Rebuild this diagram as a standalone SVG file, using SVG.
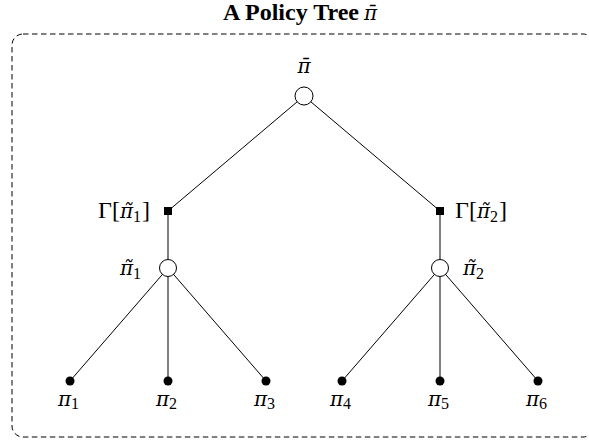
<svg xmlns="http://www.w3.org/2000/svg" width="589" height="442" viewBox="0 0 589 442">
<style>
.t{font-family:"Liberation Serif","DejaVu Serif",serif;font-size:24px;fill:#000}
.d{font-family:"DejaVu Serif",serif;font-size:20px;font-style:italic}
.s{font-size:16px}
.a{text-anchor:middle}
.e{stroke:#000;stroke-width:1;fill:none}
.oc{fill:#fff;stroke:#000;stroke-width:1}
</style>
<rect x="12" y="34" width="582" height="403" rx="11" fill="none" stroke="#000" stroke-width="1" stroke-dasharray="5.5,3.5"/>
<g id="title">
<text class="t" x="359" y="20" text-anchor="end" font-weight="bold" font-size="21">A Policy Tree</text>
<text class="t d" x="364" y="20" font-size="18">π̄</text>
</g>
<g id="edges">
<line class="e" x1="304" y1="96" x2="168" y2="211"/>
<line class="e" x1="304" y1="96" x2="440" y2="211"/>
<line class="e" x1="168" y1="211" x2="168" y2="268"/>
<line class="e" x1="440" y1="211" x2="440" y2="268"/>
<line class="e" x1="168" y1="268" x2="70" y2="381"/>
<line class="e" x1="168" y1="268" x2="168" y2="381"/>
<line class="e" x1="168" y1="268" x2="266" y2="381"/>
<line class="e" x1="440" y1="268" x2="342" y2="381"/>
<line class="e" x1="440" y1="268" x2="440" y2="381"/>
<line class="e" x1="440" y1="268" x2="538" y2="381"/>
</g>
<g id="root"><circle class="oc" cx="304" cy="96" r="9"/><text class="t d a" x="304" y="73">π̄</text></g>
<g id="gamma1"><rect x="164" y="207" width="8" height="8" fill="#000"/><text class="t" x="98" y="218">Γ<tspan x="112">[</tspan><tspan class="d" x="120">π̃</tspan><tspan class="s" x="133" dy="4">1</tspan><tspan x="142" dy="-4">]</tspan></text></g>
<g id="gamma2"><rect x="436" y="207" width="8" height="8" fill="#000"/><text class="t" x="455" y="218">Γ<tspan x="469">[</tspan><tspan class="d" x="477">π̃</tspan><tspan class="s" x="490" dy="4">2</tspan><tspan x="499" dy="-4">]</tspan></text></g>
<g id="pt1"><circle class="oc" cx="168" cy="268" r="8.5"/><text class="t" x="120" y="275"><tspan class="d">π̃</tspan><tspan class="s" x="133" dy="4">1</tspan></text></g>
<g id="pt2"><circle class="oc" cx="440" cy="268" r="8.5"/><text class="t" x="463" y="275"><tspan class="d">π̃</tspan><tspan class="s" x="476" dy="4">2</tspan></text></g>
<g id="l1"><circle cx="70" cy="381" r="4.5"/><text class="t" x="58" y="406"><tspan class="d">π</tspan><tspan class="s" x="71" dy="3">1</tspan></text></g>
<g id="l2"><circle cx="168" cy="381" r="4.5"/><text class="t" x="156" y="406"><tspan class="d">π</tspan><tspan class="s" x="169" dy="3">2</tspan></text></g>
<g id="l3"><circle cx="266" cy="381" r="4.5"/><text class="t" x="254" y="406"><tspan class="d">π</tspan><tspan class="s" x="267" dy="3">3</tspan></text></g>
<g id="l4"><circle cx="342" cy="381" r="4.5"/><text class="t" x="330" y="406"><tspan class="d">π</tspan><tspan class="s" x="343" dy="3">4</tspan></text></g>
<g id="l5"><circle cx="440" cy="381" r="4.5"/><text class="t" x="428" y="406"><tspan class="d">π</tspan><tspan class="s" x="441" dy="3">5</tspan></text></g>
<g id="l6"><circle cx="538" cy="381" r="4.5"/><text class="t" x="526" y="406"><tspan class="d">π</tspan><tspan class="s" x="539" dy="3">6</tspan></text></g>
</svg>
